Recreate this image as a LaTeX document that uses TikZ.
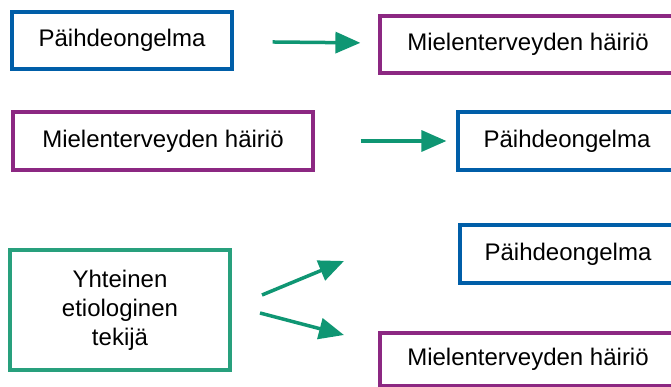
\documentclass[tikz,border=0pt]{standalone}
\usepackage{fontspec}
\setmainfont{Liberation Sans}
\usepackage{tikz}
\usetikzlibrary{arrows.meta}

\definecolor{paiblue}{RGB}{0,94,168}
\definecolor{mielpurple}{RGB}{140,40,130}
\definecolor{etigreen}{RGB}{40,160,125}
\definecolor{arrgreen}{RGB}{15,150,115}

\begin{document}
\begin{tikzpicture}[
        x=1pt, y=-1pt,
        font=\fontsize{24}{29}\selectfont,
        box/.style={rectangle, draw, line width=3.2pt, fill=white, align=center, inner sep=0pt},
        paibox/.style={box, draw=paiblue},
        mielbox/.style={box, draw=mielpurple},
        etibox/.style={box, draw=etigreen},
        line/.style={-{Triangle[length=25pt,width=21pt]}, line width=3.5pt, draw=arrgreen}
    ]
        \useasboundingbox (0,0) rectangle (671,387);

        \node[paibox, minimum width=220pt, minimum height=57pt] (pai1) at (122,40.5) {Päihdeongelma};
        \node[mielbox, minimum width=296pt, minimum height=57pt] (miel1) at (528,44.5) {Mielenterveyden häiriö};
        \node[mielbox, minimum width=300pt, minimum height=58pt] (miel2) at (163,141) {Mielenterveyden häiriö};
        \node[paibox, minimum width=218pt, minimum height=58pt] (pai2) at (567,141) {Päihdeongelma};
        \node[etibox, minimum width=220pt, minimum height=120pt] (eti) at (120,310) {Yhteinen\\etiologinen\\tekijä};
        \node[paibox, minimum width=216pt, minimum height=58pt] (pai3) at (568,254) {Päihdeongelma};
        \node[mielbox, minimum width=296pt, minimum height=53pt] (miel3) at (528,359.5) {Mielenterveyden häiriö};

        \coordinate (up1) at (262,295);
        \coordinate (up2) at (344,261);
        \coordinate (down1) at (260,313);
        \coordinate (down2) at (344,335);

        \draw[line, shorten <=39pt, shorten >=18pt] (pai1) -- (miel1);
        \draw[line, shorten <=46pt, shorten >=10pt] (miel2) -- (pai2);
        \draw[line] (up1) -- (up2);
        \draw[line] (down1) -- (down2);
    \end{tikzpicture}
\end{document}
